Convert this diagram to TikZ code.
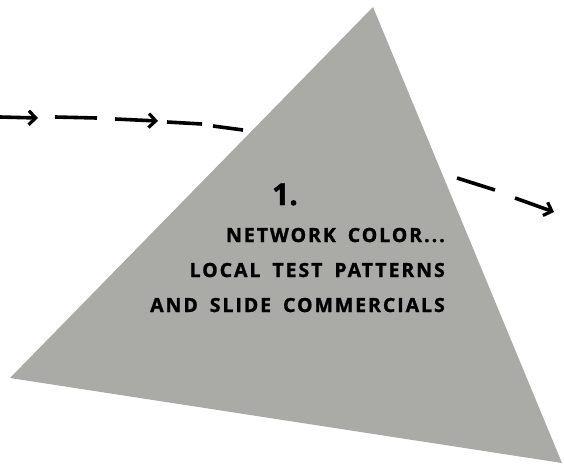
\documentclass[tikz,border=0pt]{standalone}
\usepackage{fontspec}
\setmainfont{Open Sans}
\newfontfamily\capfont{Open Sans}[LetterSpace=10, WordSpace=1.7, BoldFeatures={FakeBold=1.3}]
\newfontfamily\numfont{Open Sans}[BoldFeatures={FakeBold=1.5}]
\usepackage{tikz}
\usetikzlibrary{arrows.meta}
\usetikzlibrary{positioning}
\usetikzlibrary{calc}

\definecolor{prismgray}{RGB}{170,170,166}

\begin{document}
\begin{tikzpicture}[x=1pt, y=-1pt, ray/.style={line width=3.6pt, black}, rayhead/.style={ray, -{Straight Barb[length=7pt, width=14pt, line width=3.2pt]}}, caption/.style={font=\capfont\fontsize{19.5}{22}\selectfont\bfseries, inner sep=0pt, anchor=base east, text=black}]
        \useasboundingbox (0,0) rectangle (564,464);

        % Define the corners of the prism
        \coordinate (apex) at (373,7);
        \coordinate (lft) at (10,378);
        \coordinate (rgt) at (562,463);

        % Draw the prism
        \fill[prismgray] (apex) -- (lft) -- (rgt) -- cycle;

        % Define the pieces of the ray
        \coordinate (a1) at (0,117);   \coordinate (b1) at (38,118);
        \coordinate (a2) at (55,117);  \coordinate (b2) at (97,118);
        \coordinate (a3) at (115,119); \coordinate (b3) at (158,121);
        \coordinate (a4) at (167,122); \coordinate (b4) at (202,124);
        \coordinate (a5) at (213,126); \coordinate (b5) at (243,130);
        \coordinate (a6) at (457,178); \coordinate (b6) at (495,190);
        \coordinate (a7) at (515,198); \coordinate (b7) at (554,212);

        % Draw the dashes and the arrows
        \foreach \i in {2,4,5,6}
        {
          \draw[ray] (a\i) -- (b\i);
        }
        \foreach \i in {1,3,7}
        {
          \draw[rayhead] (a\i) -- (b\i);
        }

        % Write the texts
        \node[caption, anchor=base, font=\numfont\fontsize{30}{32}\selectfont\bfseries] (num) at (285,205) {1.};
        \node[caption] (net) at (445,242) {NETWORK COLOR.\kern2pt.\kern2pt.};
        \node[caption] (loc) at (445,277) {LOCAL TEST PATTERNS};
        \node[caption] (sld) at (445,312) {AND SLIDE COMMERCIALS};
      \end{tikzpicture}
\end{document}
